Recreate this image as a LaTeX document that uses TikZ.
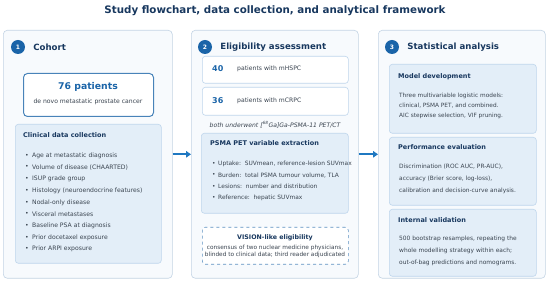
\documentclass[tikz,border=0pt]{standalone}
\usepackage{fontspec}
\setmainfont{DejaVu Sans}
\usetikzlibrary{arrows.meta,positioning}
\definecolor{flowNavy}{HTML}{17375E}
\definecolor{flowBlue}{HTML}{1A64A8}
\definecolor{flowArrow}{HTML}{1F78C1}
\definecolor{panelFill}{HTML}{F7FAFD}
\definecolor{panelLine}{HTML}{C3D4E4}
\definecolor{boxFill}{HTML}{E3EEF8}
\definecolor{boxLine}{HTML}{BFD6EC}
\definecolor{bodyGrey}{HTML}{3A4450}
\newcommand{\fsz}[1]{\fontsize{#1}{#1}\selectfont}

\begin{document}
\begin{tikzpicture}[
    x=1pt, y=-1pt,
    panel/.style={rectangle, draw=panelLine, fill=panelFill, rounded corners=4pt,
                  line width=0.6pt, anchor=north west, inner sep=0pt},
    infobox/.style={rectangle, draw=boxLine, fill=boxFill, rounded corners=3pt,
                    line width=0.6pt, anchor=north west, inner sep=0pt},
    countbox/.style={rectangle, draw=boxLine, fill=white, rounded corners=3pt,
                     line width=0.6pt, anchor=north west, inner sep=0pt},
    stepnum/.style={circle, fill=flowBlue, text=white, minimum size=14pt,
                    inner sep=0pt, font=\fsz{6}\bfseries},
    head/.style={anchor=west, text=flowNavy, font=\fsz{8.6}\bfseries, inner sep=0pt},
    boxtitle/.style={anchor=west, text=flowNavy, font=\fsz{6.5}\bfseries, inner sep=0pt},
    item/.style={anchor=west, text=bodyGrey, font=\fsz{6.1}, inner sep=0pt},
    bignum/.style={anchor=west, text=flowBlue, font=\fsz{8}\bfseries, inner sep=0pt},
    arr/.style={-{Triangle[length=5pt,width=6.5pt]}, line width=2pt, draw=flowArrow}
  ]
    \useasboundingbox (0,0) rectangle (550,283);

    \node[text=flowNavy, font=\fsz{10.3}\bfseries] (title) at (275,11)
      {Study flowchart, data collection, and analytical framework};

    % three panels
    \node[panel, minimum width=169pt, minimum height=248pt] (p1) at (3,30) {};
    \node[panel, minimum width=167pt, minimum height=248pt] (p2) at (191,30) {};
    \node[panel, minimum width=167pt, minimum height=248pt] (p3) at (378,30) {};

    \draw[arr] (p1) -- (p2);
    \draw[arr] (p2) -- (p3);

    % panel 1: cohort
    \node[stepnum] (n1) at (18,47) {1};
    \node[head, right=8pt of n1] (h1) {Cohort};
    \node[countbox, draw=flowBlue!80, line width=1pt, rounded corners=4pt,
          minimum width=130pt, minimum height=43pt] (cohort) at (23,73) {};
    \node[text=flowBlue, font=\fsz{9.3}\bfseries] (npat) at (88,87) {76 patients};
    \node[text=bodyGrey, font=\fsz{6.1}] (dnovo) at (88,102) {de novo metastatic prostate cancer};

    \node[infobox, minimum width=146pt, minimum height=139pt] (clin) at (15,124) {};
    \node[boxtitle] (clinT) at (23,135) {Clinical data collection};
    \foreach \txt [count=\i from 0] in {Age at metastatic diagnosis,
        Volume of disease (CHAARTED), ISUP grade group,
        Histology (neuroendocrine features), Nodal-only disease,
        Visceral metastases, Baseline PSA at diagnosis,
        Prior docetaxel exposure, Prior ARPI exposure} {
      \node[item] (cb\i) at (25,155.7+11.7*\i) {•};
      \node[item] (ct\i) at (32,155.7+11.7*\i) {\txt};
    }

    % panel 2: eligibility
    \node[stepnum] (n2) at (205,47) {2};
    \node[head, right=8pt of n2] (h2) {Eligibility assessment};
    \node[countbox, minimum width=146pt, minimum height=27pt] (hspc) at (202,56) {};
    \node[bignum] (hspcN) at (212,69) {40};
    \node[item] (hspcT) at (237,69) {patients with mHSPC};
    \node[countbox, minimum width=146pt, minimum height=28pt] (crpc) at (202,87) {};
    \node[bignum] (crpcN) at (212,101) {36};
    \node[item] (crpcT) at (237,101) {patients with mCRPC};
    \node[text=bodyGrey, font=\fsz{6.1}\itshape] (both) at (275,125)
      {both underwent [\textsuperscript{68}Ga]Ga-PSMA-11 PET/CT};

    \node[infobox, minimum width=147pt, minimum height=80pt] (psma) at (201,133) {};
    \node[boxtitle] (psmaT) at (210,143) {PSMA PET variable extraction};
    \foreach \txt [count=\i from 0] in {{Uptake:\ \ SUVmean, reference-lesion SUVmax},
        {Burden:\ \ total PSMA tumour volume, TLA},
        {Lesions:\ \ number and distribution},
        {Reference:\ \ hepatic SUVmax}} {
      \node[item, font=\fsz{5.9}] (pb\i) at (212,164+11.4*\i) {•};
      \node[item, font=\fsz{5.9}] (pt\i) at (218,164+11.4*\i) {\txt};
    }

    \node[countbox, draw=flowBlue!70, dashed, minimum width=146pt, minimum height=37pt]
      (vision) at (202,227) {};
    \node[text=flowNavy, font=\fsz{6.3}\bfseries] (visionT) at (275,238) {VISION-like eligibility};
    \node[text=bodyGrey, font=\fsz{5.8}] (vision1) at (275,248)
      {consensus of two nuclear medicine physicians,};
    \node[text=bodyGrey, font=\fsz{5.8}] (vision2) at (275,255)
      {blinded to clinical data; third reader adjudicated};

    % panel 3: statistics
    \node[stepnum] (n3) at (392,47) {3};
    \node[head, right=8pt of n3] (h3) {Statistical analysis};

    \node[infobox, minimum width=147pt, minimum height=69pt] (model) at (389,64) {};
    \node[boxtitle] (modelT) at (398,77) {Model development};
    \foreach \txt [count=\i from 0] in {{Three multivariable logistic models:},
        {clinical, PSMA PET, and combined.},
        {AIC stepwise selection, VIF pruning.}} {
      \node[item, font=\fsz{5.8}] (mt\i) at (399,96+10*\i) {\txt};
    }

    \node[infobox, minimum width=147pt, minimum height=68pt] (perf) at (389,137) {};
    \node[boxtitle] (perfT) at (398,147) {Performance evaluation};
    \foreach \txt [count=\i from 0] in {{Discrimination (ROC AUC, PR-AUC),},
        {accuracy (Brier score, log-loss),},
        {calibration and decision-curve analysis.}} {
      \node[item, font=\fsz{5.9}] (et\i) at (399,167+12*\i) {\txt};
    }

    \node[infobox, minimum width=147pt, minimum height=67pt] (valid) at (389,209) {};
    \node[boxtitle] (validT) at (398,220) {Internal validation};
    \foreach \txt [count=\i from 0] in {{500 bootstrap resamples, repeating the},
        {whole modelling strategy within each;},
        {out-of-bag predictions and nomograms.}} {
      \node[item, font=\fsz{5.9}] (vt\i) at (399,239+12*\i) {\txt};
    }
  \end{tikzpicture}
\end{document}
